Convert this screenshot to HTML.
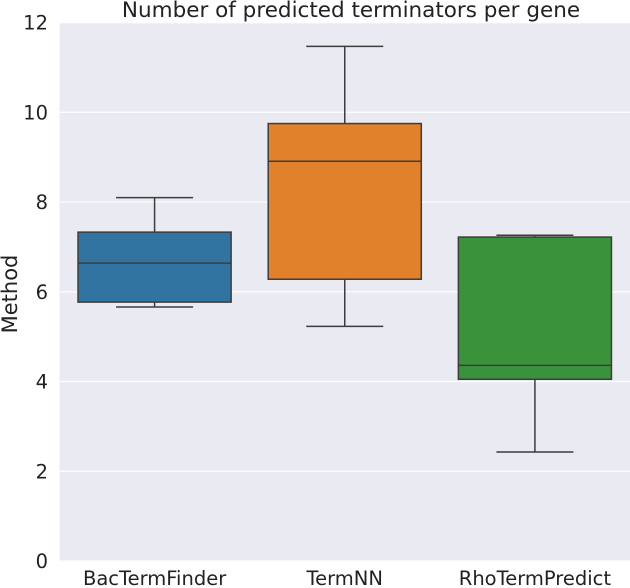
<!DOCTYPE html>
<html><head><meta charset="utf-8"><style>
body{margin:0;background:#fff;}
svg{display:block;font-family:"DejaVu Sans","Liberation Sans",sans-serif;}
</style></head><body>
<svg id="chart" width="630" height="588"></svg>
<script>
const categories=["BacTermFinder","TermNN","RhoTermPredict"];
const whiskerLow=[5.66,5.23,2.43];
const q1=[5.77,6.28,4.05];
const medians=[6.64,8.91,4.36];
const q3=[7.33,9.75,7.22];
const whiskerHigh=[8.1,11.47,7.26];
const colors=["#3274a1","#e1812c","#3a923a"];
const yTicks=[0,2,4,6,8,10,12];
const ns="http://www.w3.org/2000/svg";
const svg=document.getElementById("chart");
const L=59.5,R=630,T=22.6,B=561,yMax=12;
const y=v=>B-(v/yMax)*(B-T);
const band=(R-L)/categories.length;
const xc=i=>L+band*(i+0.5);
function mk(tag,attrs){const e=document.createElementNS(ns,tag);for(const k in attrs)e.setAttribute(k,attrs[k]);svg.appendChild(e);return e;}
let bg=mk("rect",{x:L,y:T,width:R-L,height:B-T,fill:"#eaeaf2"});


yTicks.forEach(t=>{
  let g=mk("line",{x1:L,x2:R,y1:y(t),y2:y(t),stroke:"#fff","stroke-width":1.2});
  
  
  let tx=mk("text",{x:48,y:y(t)+7,"text-anchor":"end","font-size":19.5,fill:"#222"});
  tx.textContent=t;
  
  
});
const bw=band*0.805,cw=band*0.405;
categories.forEach((c,i)=>{
  const cx=xc(i);
  let w1=mk("line",{x1:cx,x2:cx,y1:y(q3[i]),y2:y(whiskerHigh[i]),stroke:"#3d3d3d","stroke-width":1.5});
  
  
  let w2=mk("line",{x1:cx,x2:cx,y1:y(q1[i]),y2:y(whiskerLow[i]),stroke:"#3d3d3d","stroke-width":1.5});
  
  
  [whiskerHigh[i],whiskerLow[i]].forEach(v=>{
    let cp=mk("line",{x1:cx-cw/2,x2:cx+cw/2,y1:y(v),y2:y(v),stroke:"#3d3d3d","stroke-width":1.5});
    
    
  });
  let bx=mk("rect",{x:cx-bw/2,y:y(q3[i]),width:bw,height:y(q1[i])-y(q3[i]),fill:colors[i],stroke:"#3d3d3d","stroke-width":1.5});
  
  
  let md=mk("line",{x1:cx-bw/2,x2:cx+bw/2,y1:y(medians[i]),y2:y(medians[i]),stroke:"#3d3d3d","stroke-width":1.5});
  
  
  let lb=mk("text",{x:cx,y:585,"text-anchor":"middle","font-size":19.5,fill:"#222"});
  lb.textContent=c;
  
  
});
let ttl=mk("text",{x:351,y:17,"text-anchor":"middle","font-size":21.5,fill:"#222"});
ttl.textContent="Number of predicted terminators per gene";


let yt=mk("text",{x:0,y:0,"text-anchor":"middle","font-size":21,fill:"#222",transform:"translate(17,294) rotate(-90)"});
yt.textContent="Method";


</script>
</body></html>
